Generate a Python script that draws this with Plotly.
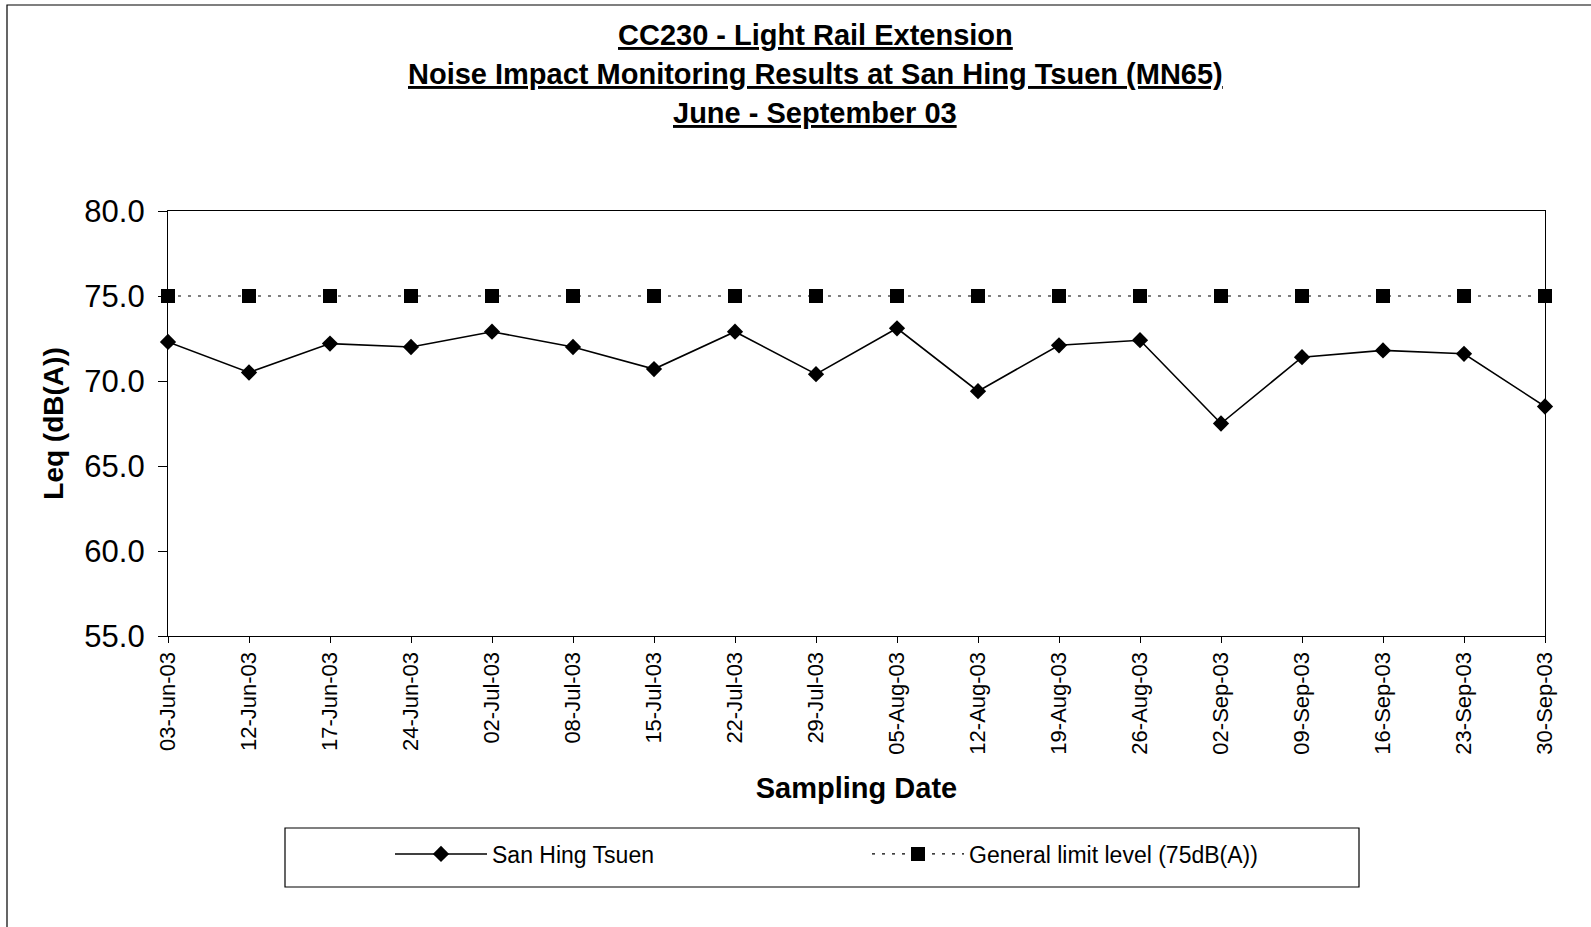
import plotly.graph_objects as go

# Sampling dates (2003) and measured Leq values at San Hing Tsuen (MN65)
dates = ["03-Jun-03", "12-Jun-03", "17-Jun-03", "24-Jun-03", "02-Jul-03", "08-Jul-03",
         "15-Jul-03", "22-Jul-03", "29-Jul-03", "05-Aug-03", "12-Aug-03", "19-Aug-03",
         "26-Aug-03", "02-Sep-03", "09-Sep-03", "16-Sep-03", "23-Sep-03", "30-Sep-03"]
leq = [72.3, 70.5, 72.2, 72.0, 72.9, 72.0, 70.7, 72.9, 70.4, 73.1, 69.4, 72.1,
       72.4, 67.5, 71.4, 71.8, 71.6, 68.5]
limit = [75.0] * len(dates)
y_ticks = [55.0, 60.0, 65.0, 70.0, 75.0, 80.0]

FONT = "Liberation Sans, Arial, sans-serif"

# Pixel layout of the figure
W, H = 1591, 927
L, R, T, B = 168, 46, 211, 291
PW, PH = W - L - R, H - T - B


def px(x):
    return (x - L) / PW


def py(y):
    return (H - B - y) / PH


fig = go.Figure()

fig.add_trace(go.Scatter(
    x=dates, y=leq, name="San Hing Tsuen", mode="lines+markers",
    line=dict(color="black", width=1.6),
    marker=dict(symbol="diamond", size=12.5, color="black"),
    cliponaxis=False,
))
fig.add_trace(go.Scatter(
    x=dates, y=limit, name="General limit level (75dB(A))", mode="lines+markers",
    line=dict(color="black", width=1.2, dash="3px,7px"),
    marker=dict(symbol="square", size=14, color="black"),
    cliponaxis=False,
))

titles = ["CC230 - Light Rail Extension",
          "Noise Impact Monitoring Results at San Hing Tsuen (MN65)",
          "June - September 03"]
title_y = [34.5, 74, 112.6]
annotations = [
    dict(text=f"<b><u>{t}</u></b>", x=px(815), y=py(yy), xref="paper", yref="paper",
         xanchor="center", yanchor="middle", showarrow=False,
         font=dict(family=FONT, size=29, color="black"))
    for t, yy in zip(titles, title_y)
]

shapes = [
    # chart frame
    dict(type="rect", xref="paper", yref="paper",
         x0=px(7), x1=px(1600), y0=py(5), y1=py(940),
         line=dict(color="black", width=1.2), fillcolor="rgba(0,0,0,0)", layer="below"),
    # legend frame
    dict(type="rect", xref="paper", yref="paper",
         x0=px(285), x1=px(1359), y0=py(828), y1=py(887),
         line=dict(color="black", width=1.2), fillcolor="rgba(0,0,0,0)", layer="below"),
]

fig.update_layout(
    width=W, height=H,
    margin=dict(l=L, r=R, t=T, b=B, autoexpand=False),
    paper_bgcolor="white", plot_bgcolor="white",
    font=dict(family=FONT, color="black"),
    showlegend=True,
    legend=dict(
        orientation="h", x=px(390), y=py(854), xanchor="left", yanchor="middle",
        font=dict(family=FONT, size=23, color="black"),
        bgcolor="rgba(0,0,0,0)", borderwidth=0,
        entrywidth=370, entrywidthmode="pixels", itemwidth=92,
    ),
    annotations=annotations,
    shapes=shapes,
)

fig.update_xaxes(
    type="category", range=[0, len(dates) - 1],
    tickangle=-90, tickfont=dict(family=FONT, size=22, color="black"),
    ticks="outside", ticklen=6, tickcolor="black",
    showline=True, linecolor="black", linewidth=1.2, mirror=True,
    showgrid=False, zeroline=False,
    title=dict(text="<b>Sampling Date</b>", font=dict(family=FONT, size=29, color="black"),
               standoff=24),
)
fig.update_yaxes(
    range=[55, 80], tickvals=y_ticks, ticktext=[f"{v:.1f}" for v in y_ticks],
    tickfont=dict(family=FONT, size=31, color="black"),
    ticks="outside", ticklen=9, tickcolor="black", ticklabelstandoff=7,
    showline=True, linecolor="black", linewidth=1.2, mirror=True,
    showgrid=False, zeroline=False,
    title=dict(text="<b>Leq (dB(A))</b>", font=dict(family=FONT, size=28, color="black"),
               standoff=12),
)

fig.write_html("out.html")
